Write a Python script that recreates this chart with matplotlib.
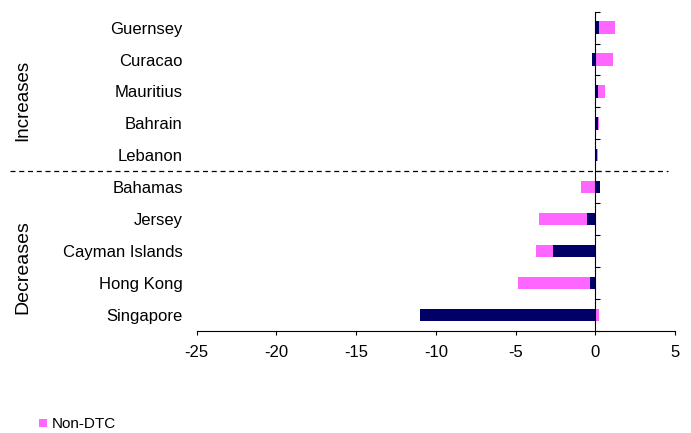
import numpy as np
import matplotlib.pyplot as plt
from matplotlib.lines import Line2D
import matplotlib.transforms as mtransforms

plt.rcParams['font.family'] = ['Liberation Sans', 'DejaVu Sans']

countries = ['Guernsey', 'Curacao', 'Mauritius', 'Bahrain', 'Lebanon',
             'Bahamas', 'Jersey', 'Cayman Islands', 'Hong Kong', 'Singapore']
dtc = [0.21, -0.2, 0.15, 0.17, 0.12, 0.27, -0.52, -2.68, -0.31, -10.98]
non_dtc = [1.05, 1.1, 0.44, 0.06, 0.03, -0.88, -3.04, -1.03, -4.56, 0.25]
xticks = [-25, -20, -15, -10, -5, 0, 5]

navy = '#000066'
pink = '#ff66ff'

dtc = np.array(dtc)
non_dtc = np.array(non_dtc)
y = np.arange(len(countries))
# excel-style stacking: positives and negatives stack separately
left_pink = np.where(np.sign(dtc) == np.sign(non_dtc), dtc, 0)

fig = plt.figure(figsize=(6.91, 4.33), dpi=100)
ax = fig.add_axes([0.2847, 0.2363, 0.6922, 0.7367])

ax.barh(y, dtc, height=0.39, color=navy, label='DTC')
pink_bars = ax.barh(y, non_dtc, left=left_pink, height=0.39, color=pink, label='Non-DTC')

ax.set_xlim(-25, 5)
ax.set_ylim(len(countries) - 0.5, -0.5)
ax.set_xticks(xticks)
ax.set_xticklabels([str(t) for t in xticks], fontsize=12)
ax.tick_params(axis='x', direction='out', length=3, width=0.8, pad=7)

# vertical axis drawn at zero with ticks between categories
ax.spines['left'].set_position(('data', 0))
ax.spines['right'].set_visible(False)
ax.spines['top'].set_visible(False)
ax.set_yticks(np.arange(len(countries) + 1) - 0.5)
ax.set_yticklabels([])
ax.tick_params(axis='y', direction='in', length=3.6, width=0.8)

# category names on the left edge
sec = ax.secondary_yaxis('left')
sec.set_yticks(y)
sec.set_yticklabels(countries, fontsize=12)
sec.tick_params(length=0, pad=10)
sec.spines['left'].set_visible(False)

# dashed split between increases and decreases
trans = mtransforms.blended_transform_factory(fig.transFigure, ax.transData)
fig.add_artist(Line2D([10 / 691, 668 / 691], [4.5, 4.5], transform=trans,
                      color='black', lw=0.9, linestyle=(0, (4, 3))))

fig.text(23 / 691, 2.27, 'Increases', rotation=90, ha='center', va='center',
         fontsize=13.5, transform=trans)
fig.text(23 / 691, 7.49, 'Decreases', rotation=90, ha='center', va='center',
         fontsize=14, transform=trans)

fig.legend(handles=[pink_bars], labels=['Non-DTC'], loc='center left',
           bbox_to_anchor=(39 / 691, 1 - 424.5 / 433), frameon=False,
           fontsize=11, handlelength=0.5, handleheight=0.5,
           handletextpad=0.35, borderpad=0, borderaxespad=0)

fig.savefig('out.png', dpi=100)
